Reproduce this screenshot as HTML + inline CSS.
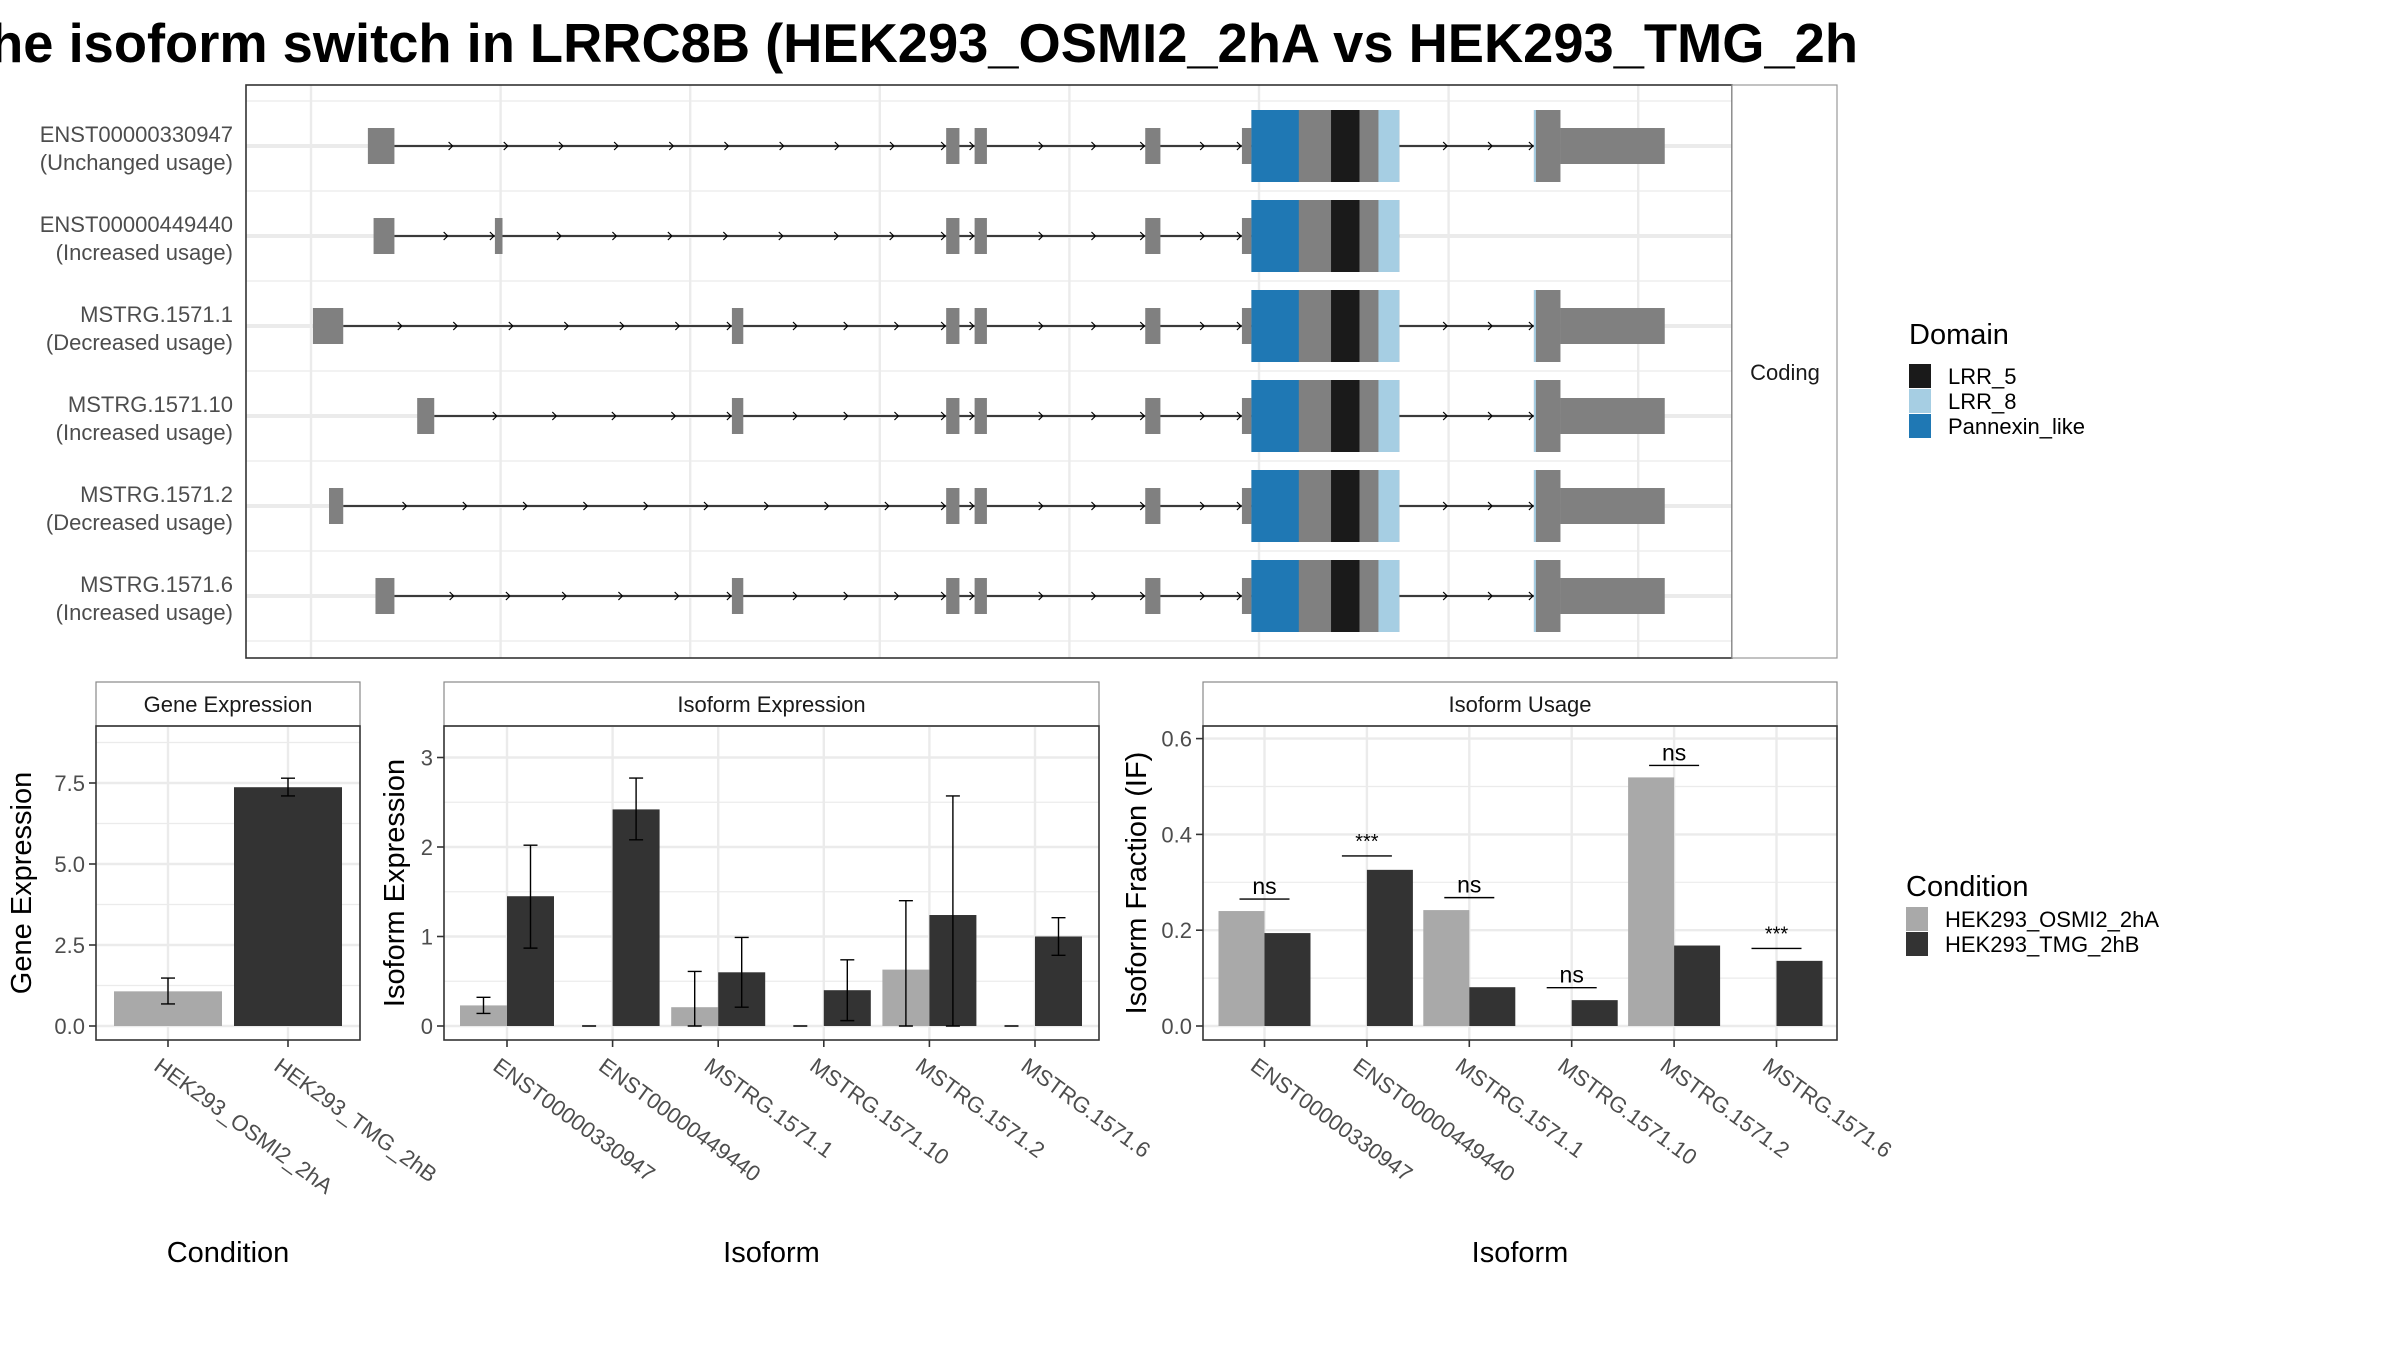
<!DOCTYPE html>
<html><head><meta charset="utf-8"><style>
html,body{margin:0;padding:0;background:#fff;}
svg{display:block;font-family:"Liberation Sans",Arial,sans-serif;}
</style></head><body>
<svg id="fig" width="2400" height="1350" viewBox="0 0 2400 1350" xmlns="http://www.w3.org/2000/svg">
<defs><clipPath id="titleclip"><rect x="0" y="0" width="1862" height="80"/></clipPath></defs>
<g clip-path="url(#titleclip)">
<text x="-43" y="62" font-size="55" font-weight="bold" fill="#000" textLength="1901" lengthAdjust="spacingAndGlyphs">The isoform switch in LRRC8B (HEK293_OSMI2_2hA vs HEK293_TMG_2h</text>
</g>
<g id="topPanel"></g>
<g id="bottomPanels"></g>
</svg>
<script>
// ---------- Transcript structure data (genomic units, 10 per grid step) ----------
const txNames = ["ENST00000330947","ENST00000449440","MSTRG.1571.1","MSTRG.1571.10","MSTRG.1571.2","MSTRG.1571.6"];
const txUsage = ["(Unchanged usage)","(Increased usage)","(Decreased usage)","(Increased usage)","(Decreased usage)","(Increased usage)"];
const txFirstExons = [[[3.0,4.4]],[[3.3,4.4],[9.7,10.1]],[[0.1,1.7],[22.2,22.8]],[[5.6,6.5],[22.2,22.8]],[[0.95,1.7]],[[3.4,4.4],[22.2,22.8]]];
const sharedExons = [[33.5,34.2],[35.0,35.65],[44.0,44.8],[49.1,49.6]];
const cdsBlock = [49.6,57.4];
const domainNames = ["Pannexin_like","LRR_5","LRR_8"];
const domainRanges = [[49.6,52.1],[53.8,55.3],[56.3,57.4]];
const hasTail = [true,false,true,true,true,true];
const tailCoding = [64.5,65.9];
const tailUtr = [65.9,71.4];

// ---------- Bar chart data ----------
const conditions = ["HEK293_OSMI2_2hA","HEK293_TMG_2hB"];
const geneExpr = [1.07,7.37];
const geneErrLo = [0.68,7.10];
const geneErrHi = [1.48,7.65];
const isoforms = ["ENST00000330947","ENST00000449440","MSTRG.1571.1","MSTRG.1571.10","MSTRG.1571.2","MSTRG.1571.6"];
const isoExprA = [0.23,0,0.21,0,0.63,0];
const isoExprB = [1.45,2.42,0.60,0.40,1.24,1.00];
const isoErrLoA = [0.14,0,0,0,0,0];
const isoErrHiA = [0.32,0,0.61,0,1.40,0];
const isoErrLoB = [0.87,2.08,0.21,0.06,0,0.79];
const isoErrHiB = [2.02,2.77,0.99,0.74,2.57,1.21];
const ifA = [0.240,0,0.242,0,0.519,0];
const ifB = [0.194,0.326,0.081,0.054,0.168,0.136];
const sigLabels = ["ns","***","ns","ns","ns","***"];
const sigY = [0.265,0.355,0.268,0.080,0.544,0.162];
const geneTicks = [0,2.5,5,7.5];
const geneTickLabels = ["0.0","2.5","5.0","7.5"];
const isoTicks = [0,1,2,3];
const isoTickLabels = ["0","1","2","3"];
const ifTicks = [0,0.2,0.4,0.6];
const ifTickLabels = ["0.0","0.2","0.4","0.6"];

const NS="http://www.w3.org/2000/svg";
function el(tag, attrs, parent){const e=document.createElementNS(NS,tag);for(const k in attrs)e.setAttribute(k,attrs[k]);if(parent)parent.appendChild(e);return e;}
const LIGHT="#A9A9A9", DARK="#333333", GRID="#EBEBEB";
const domainColors={"Pannexin_like":"#1F78B4","LRR_5":"#1A1A1A","LRR_8":"#A6CEE3"};

// ---------- Top panel ----------
const topG=document.getElementById('topPanel');
const TP={x0:246,x1:1732,y0:85,y1:658};
const gx=v=>311+v*18.96;
const rowY=i=>146+i*90;
let r=el('rect',{x:TP.x0,y:TP.y0,width:TP.x1-TP.x0,height:TP.y1-TP.y0,fill:'#fff'},topG);

for(let k=-0.5;k<6;k+=1){let l=el('line',{x1:TP.x0,x2:TP.x1,y1:rowY(0)+k*90,y2:rowY(0)+k*90,stroke:GRID,'stroke-width':1.2},topG);}
for(let k=0;k<8;k++){let l=el('line',{x1:gx(k*10),x2:gx(k*10),y1:TP.y0,y2:TP.y1,stroke:GRID,'stroke-width':2.4},topG);}
for(let i=0;i<6;i++){let l=el('line',{x1:TP.x0,x2:TP.x1,y1:rowY(i),y2:rowY(i),stroke:GRID,'stroke-width':4},topG);}
for(let i=0;i<6;i++){
  const g=el('g',{},topG);
  
  
  const cy=rowY(i);
  const exons=txFirstExons[i].concat(sharedExons);
  const endX=hasTail[i]?tailCoding[0]:cdsBlock[1];
  let ln=el('line',{x1:gx(exons[0][1]),x2:gx(endX),y1:cy,y2:cy,stroke:'#000','stroke-width':1.5},g);
  
  const bounds=exons.concat([cdsBlock]).concat(hasTail[i]?[tailCoding]:[]);
  for(let j=0;j<bounds.length-1;j++){
    const a=gx(bounds[j][1]),b=gx(bounds[j+1][0]);const len=b-a;
    const n=Math.floor(len/61);
    for(let m=1;m<=n;m++){const px=a+len*m/(n+1)+3;
      let ar=el('path',{d:`M${px-4},${cy-4} L${px},${cy} L${px-4},${cy+4}`,stroke:'#000','stroke-width':1.2,fill:'none'},g);
      }
    let ar=el('path',{d:`M${b-5},${cy-4} L${b-1},${cy} L${b-5},${cy+4}`,stroke:'#000','stroke-width':1.2,fill:'none'},g);
    
  }
  exons.forEach(e=>{let x=el('rect',{x:gx(e[0]),y:cy-18,width:gx(e[1])-gx(e[0]),height:36,fill:'#808080'},g);});
  let cb=el('rect',{x:gx(cdsBlock[0]),y:cy-36,width:gx(cdsBlock[1])-gx(cdsBlock[0]),height:72,fill:'#808080'},g);
  
  domainRanges.forEach((d,k)=>{let dr=el('rect',{x:gx(d[0]),y:cy-36,width:gx(d[1])-gx(d[0]),height:72,fill:domainColors[domainNames[k]]},g);});
  if(hasTail[i]){
    let tc=el('rect',{x:gx(tailCoding[0]),y:cy-36,width:gx(tailCoding[1])-gx(tailCoding[0]),height:72,fill:'#808080'},g);
    let ts=el('rect',{x:gx(tailCoding[0]),y:cy-36,width:2,height:72,fill:'#A6CEE3'},g);
    let tu=el('rect',{x:gx(tailUtr[0]),y:cy-18,width:gx(tailUtr[1])-gx(tailUtr[0]),height:36,fill:'#808080'},g);
  }
  let t1=el('text',{x:233,y:cy-4,'text-anchor':'end','font-size':22,fill:'#4D4D4D'},topG);t1.textContent=txNames[i];
  let t2=el('text',{x:233,y:cy+24,'text-anchor':'end','font-size':22,fill:'#4D4D4D'},topG);t2.textContent=txUsage[i];
}
let pb=el('rect',{x:TP.x0,y:TP.y0,width:TP.x1-TP.x0,height:TP.y1-TP.y0,fill:'none',stroke:'#333','stroke-width':1.6},topG);

let sb=el('rect',{x:TP.x1,y:TP.y0,width:105,height:TP.y1-TP.y0,fill:'#fff',stroke:'#999','stroke-width':1.2},topG);

let st=el('text',{x:1785,y:380,'text-anchor':'middle','font-size':22,fill:'#1A1A1A'},topG);st.textContent='Coding';

let dt=el('text',{x:1909,y:344,'font-size':29,fill:'#000'},topG);dt.textContent='Domain';

["LRR_5","LRR_8","Pannexin_like"].forEach((d,k)=>{
  let s=el('rect',{x:1909,y:364+k*25,width:22,height:24,fill:domainColors[d]},topG);
  let t=el('text',{x:1948,y:384+k*25,'font-size':22,fill:'#000'},topG);t.textContent=d;
});

// ---------- Bottom panels ----------
const botG=document.getElementById('bottomPanels');
const PY0=726, PY1=1040, Y0PX=1026;
function panel(cfg){
  const g=el('g',{},botG);
  
  
  const ys=v=>Y0PX-v*cfg.unit;
  let s=el('rect',{x:cfg.x0,y:682,width:cfg.x1-cfg.x0,height:PY0-682,fill:'#fff',stroke:'#888','stroke-width':1.2},g);
  
  let stt=el('text',{x:(cfg.x0+cfg.x1)/2,y:712,'text-anchor':'middle','font-size':22,fill:'#1A1A1A'},g);stt.textContent=cfg.title;
  
  const step=cfg.ticks[1]-cfg.ticks[0];
  for(let v=step/2; ys(v)>PY0; v+=step){let l=el('line',{x1:cfg.x0,x2:cfg.x1,y1:ys(v),y2:ys(v),stroke:GRID,'stroke-width':1.2},g);}
  cfg.ticks.forEach((v,k)=>{
    let l=el('line',{x1:cfg.x0,x2:cfg.x1,y1:ys(v),y2:ys(v),stroke:GRID,'stroke-width':2.4},g);
    let tk=el('line',{x1:cfg.x0-7,x2:cfg.x0,y1:ys(v),y2:ys(v),stroke:'#333','stroke-width':1.6},g);
    let tl=el('text',{x:cfg.x0-11,y:ys(v)+8,'text-anchor':'end','font-size':22,fill:'#4D4D4D'},g);tl.textContent=cfg.tickLabels[k];
  });
  const cx=i=>cfg.c0+i*cfg.spacing;
  cfg.cats.forEach((c,i)=>{let l=el('line',{x1:cx(i),x2:cx(i),y1:PY0,y2:PY1,stroke:GRID,'stroke-width':2.4},g);});
  cfg.draw(g,cx,ys);
  let b=el('rect',{x:cfg.x0,y:PY0,width:cfg.x1-cfg.x0,height:PY1-PY0,fill:'none',stroke:'#333','stroke-width':1.6},g);
  
  cfg.cats.forEach((c,i)=>{
    let tk=el('line',{x1:cx(i),x2:cx(i),y1:PY1,y2:PY1+7,stroke:'#333','stroke-width':1.6},g);
    let t=el('text',{transform:`translate(${cx(i)-6},${PY1+16}) rotate(36)`,'font-size':22,fill:'#4D4D4D','dominant-baseline':'hanging'},g);t.textContent=c;
  });
  let xt=el('text',{x:(cfg.x0+cfg.x1)/2,y:1262,'text-anchor':'middle','font-size':29,fill:'#000'},g);xt.textContent=cfg.xtitle;
  let yt=el('text',{transform:`translate(${cfg.ytx},${(PY0+PY1)/2}) rotate(-90)`,'text-anchor':'middle','font-size':29,fill:'#000'},g);yt.textContent=cfg.ytitle;
}
function bar(g,x,w,v,ys,fill,name){let r=el('rect',{x:x,y:ys(v),width:w,height:Y0PX-ys(v),fill:fill},g);}
function err(g,x,lo,hi,ys){
  let p=el('path',{d:`M${x-7},${ys(hi)} H${x+7} M${x},${ys(hi)} V${ys(lo)} M${x-7},${ys(lo)} H${x+7}`,stroke:'#000','stroke-width':1.4,fill:'none'},g);
  
}
panel({name:'gene-expression-panel',title:'Gene Expression',x0:96,x1:360,unit:32.4,ticks:geneTicks,tickLabels:geneTickLabels,
  cats:conditions,c0:168,spacing:120,xtitle:'Condition',ytitle:'Gene Expression',ytx:31,
  draw:(g,cx,ys)=>{
    conditions.forEach((c,i)=>{bar(g,cx(i)-54,108,geneExpr[i],ys,i===0?LIGHT:DARK,'bar-'+c);err(g,cx(i),geneErrLo[i],geneErrHi[i],ys);});
  }});
panel({name:'isoform-expression-panel',title:'Isoform Expression',x0:444,x1:1099,unit:89.5,ticks:isoTicks,tickLabels:isoTickLabels,
  cats:isoforms,c0:507,spacing:105.6,xtitle:'Isoform',ytitle:'Isoform Expression',ytx:404,
  draw:(g,cx,ys)=>{
    isoforms.forEach((c,i)=>{
      bar(g,cx(i)-47,47,isoExprA[i],ys,LIGHT,'bar-osmi-'+c);
      bar(g,cx(i),47,isoExprB[i],ys,DARK,'bar-tmg-'+c);
      err(g,cx(i)-23.5,isoErrLoA[i],isoErrHiA[i],ys);
      err(g,cx(i)+23.5,isoErrLoB[i],isoErrHiB[i],ys);
    });
  }});
panel({name:'isoform-usage-panel',title:'Isoform Usage',x0:1203,x1:1837,unit:479,ticks:ifTicks,tickLabels:ifTickLabels,
  cats:isoforms,c0:1264.5,spacing:102.4,xtitle:'Isoform',ytitle:'Isoform Fraction (IF)',ytx:1146,
  draw:(g,cx,ys)=>{
    isoforms.forEach((c,i)=>{
      bar(g,cx(i)-46,46,ifA[i],ys,LIGHT,'bar-osmi-'+c);
      bar(g,cx(i),46,ifB[i],ys,DARK,'bar-tmg-'+c);
      let l=el('line',{x1:cx(i)-25,x2:cx(i)+25,y1:ys(sigY[i]),y2:ys(sigY[i]),stroke:'#000','stroke-width':1.4},g);
      
      const star=sigLabels[i]==='***';
      let t=el('text',{x:cx(i),y:ys(sigY[i])-(star?8:5),'text-anchor':'middle','font-size':star?20:23,fill:'#000'},g);
      t.textContent=sigLabels[i];
      
    });
  }});
let ct=el('text',{x:1906,y:896,'font-size':29,fill:'#000'},botG);ct.textContent='Condition';

conditions.forEach((c,k)=>{
  let s=el('rect',{x:1906,y:907+k*25,width:22,height:24,fill:k===0?LIGHT:DARK},botG);
  let t=el('text',{x:1945,y:927+k*25,'font-size':22,fill:'#000'},botG);t.textContent=c;
});
</script>
</body></html>
